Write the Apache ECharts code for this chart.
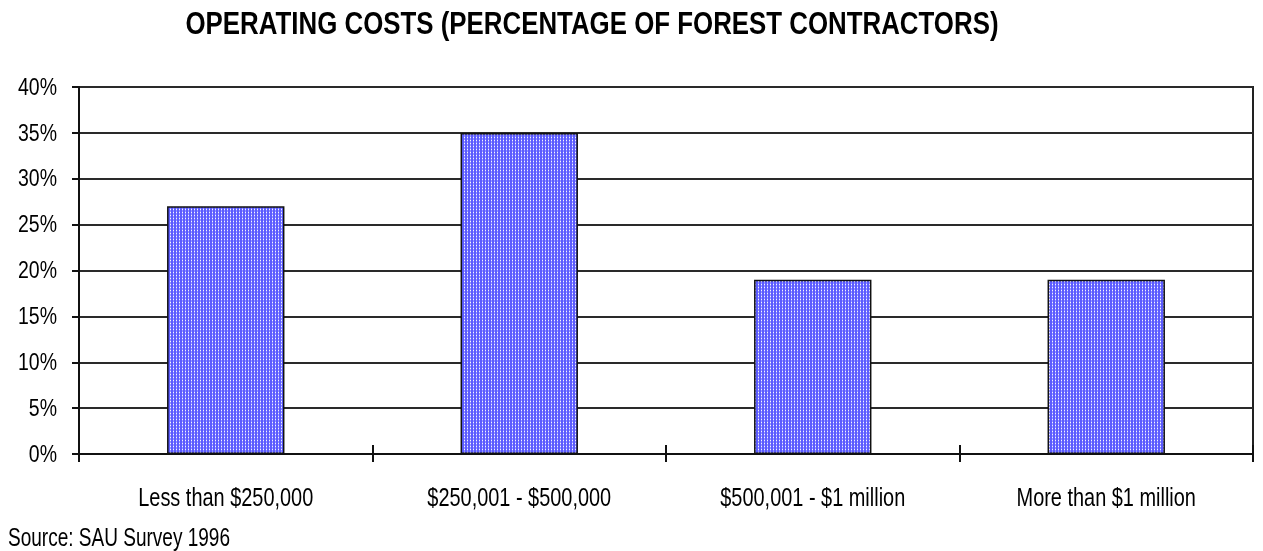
<!DOCTYPE html>
<html>
<head>
<meta charset="utf-8">
<script src="https://cdn.jsdelivr.net/npm/echarts@6/dist/echarts.min.js"></script>
<style>
  html, body { margin: 0; padding: 0; background: #fff; }
  #chart { width: 1263px; height: 551px; }
</style>
</head>
<body>
<div id="chart"></div>
<script>
// Operating costs by contractor size, percentage of forest contractors
const categories = ['Less than $250,000', '$250,001 - $500,000', '$500,001 - $1 million', 'More than $1 million'];
const shares = [27, 35, 19, 19];
const yTickValues = [0, 5, 10, 15, 20, 25, 30, 35, 40];
const titleText = 'OPERATING COSTS (PERCENTAGE OF FOREST CONTRACTORS)';
const sourceText = 'Source: SAU Survey 1996';

const FAMILY = '"Liberation Sans", Arial, sans-serif';
const TITLE_FONT = 'bold 32px ' + FAMILY;
const CAT_FONT = '26px ' + FAMILY;
const VAL_FONT = '24px ' + FAMILY;
const SRC_FONT = '26px ' + FAMILY;

// Narrow lettering: horizontal squeeze so a sample string fills a set width
const mctx = document.createElement('canvas').getContext('2d');
function squeeze(sample, font, width) {
  mctx.font = font;
  return width / mctx.measureText(sample).width;
}
const titleScale = squeeze(titleText, TITLE_FONT, 813);
const catScale = squeeze(categories[0], CAT_FONT, 175);
const valScale = squeeze('40%', VAL_FONT, 39);
const srcScale = squeeze(sourceText, SRC_FONT, 222);

// Dotted blue fill tile for the bars
function makeTile() {
  const c = document.createElement('canvas');
  c.width = 3; c.height = 3;
  const g = c.getContext('2d');
  g.fillStyle = '#5c5cff';
  g.fillRect(0, 0, 3, 3);
  g.fillStyle = '#9494ff';
  g.fillRect(2, 0, 1, 3);
  g.fillStyle = '#f4f4ff';
  g.fillRect(2, 2, 1, 1);
  return c;
}

const chart = echarts.init(document.getElementById('chart'), null, { renderer: 'canvas' });
chart.setOption({
  animation: false,
  backgroundColor: '#fff',
  grid: {
    left: 79, right: 10, top: 87, bottom: 97,
    show: true, borderColor: '#222', borderWidth: 2, backgroundColor: '#fff'
  },
  xAxis: [{
    type: 'category',
    data: categories,
    boundaryGap: true,
    axisLine: { lineStyle: { color: '#111', width: 2 } },
    axisTick: { show: true, length: 8, lineStyle: { color: '#111', width: 2 } },
    axisLabel: { show: false }
  }, {
    type: 'category',
    data: categories,
    position: 'bottom',
    boundaryGap: true,
    axisLine: { show: false },
    axisTick: { show: true, inside: true, length: 9, lineStyle: { color: '#111', width: 2 } },
    axisLabel: { show: false }
  }],
  yAxis: {
    type: 'value',
    min: 0, max: 40, interval: 5,
    axisLine: { show: true, lineStyle: { color: '#111', width: 2 } },
    axisTick: { show: true, length: 7, lineStyle: { color: '#111', width: 2 } },
    axisLabel: { show: false },
    splitLine: { show: true, lineStyle: { color: '#2a2a2a', width: 2 } }
  },
  series: [{
    type: 'bar',
    data: shares,
    barCategoryGap: '60%',
    itemStyle: {
      color: { image: makeTile(), repeat: 'repeat' },
      borderColor: '#111',
      borderWidth: 1.5
    }
  }]
});

// Labels in narrow lettering, placed through the axes' own scales
function label(text, x, y, font, scale, align) {
  return {
    type: 'text', x: x, y: y, scaleX: scale, silent: true,
    style: { text: text, font: font, fill: '#000', textAlign: align, textVerticalAlign: 'middle' }
  };
}
const graphics = [];
graphics.push(label(titleText, 592, 25, TITLE_FONT, titleScale, 'center'));
categories.forEach(function (c) {
  const x = chart.convertToPixel({ xAxisIndex: 0 }, c);
  graphics.push(label(c, x, 499, CAT_FONT, catScale, 'center'));
});
yTickValues.forEach(function (v) {
  const y = chart.convertToPixel({ yAxisIndex: 0 }, v);
  graphics.push(label(v + '%', 57, y + 1, VAL_FONT, valScale, 'right'));
});
graphics.push(label(sourceText, 8, 539, SRC_FONT, srcScale, 'left'));
chart.setOption({ graphic: graphics });
</script>
</body>
</html>
